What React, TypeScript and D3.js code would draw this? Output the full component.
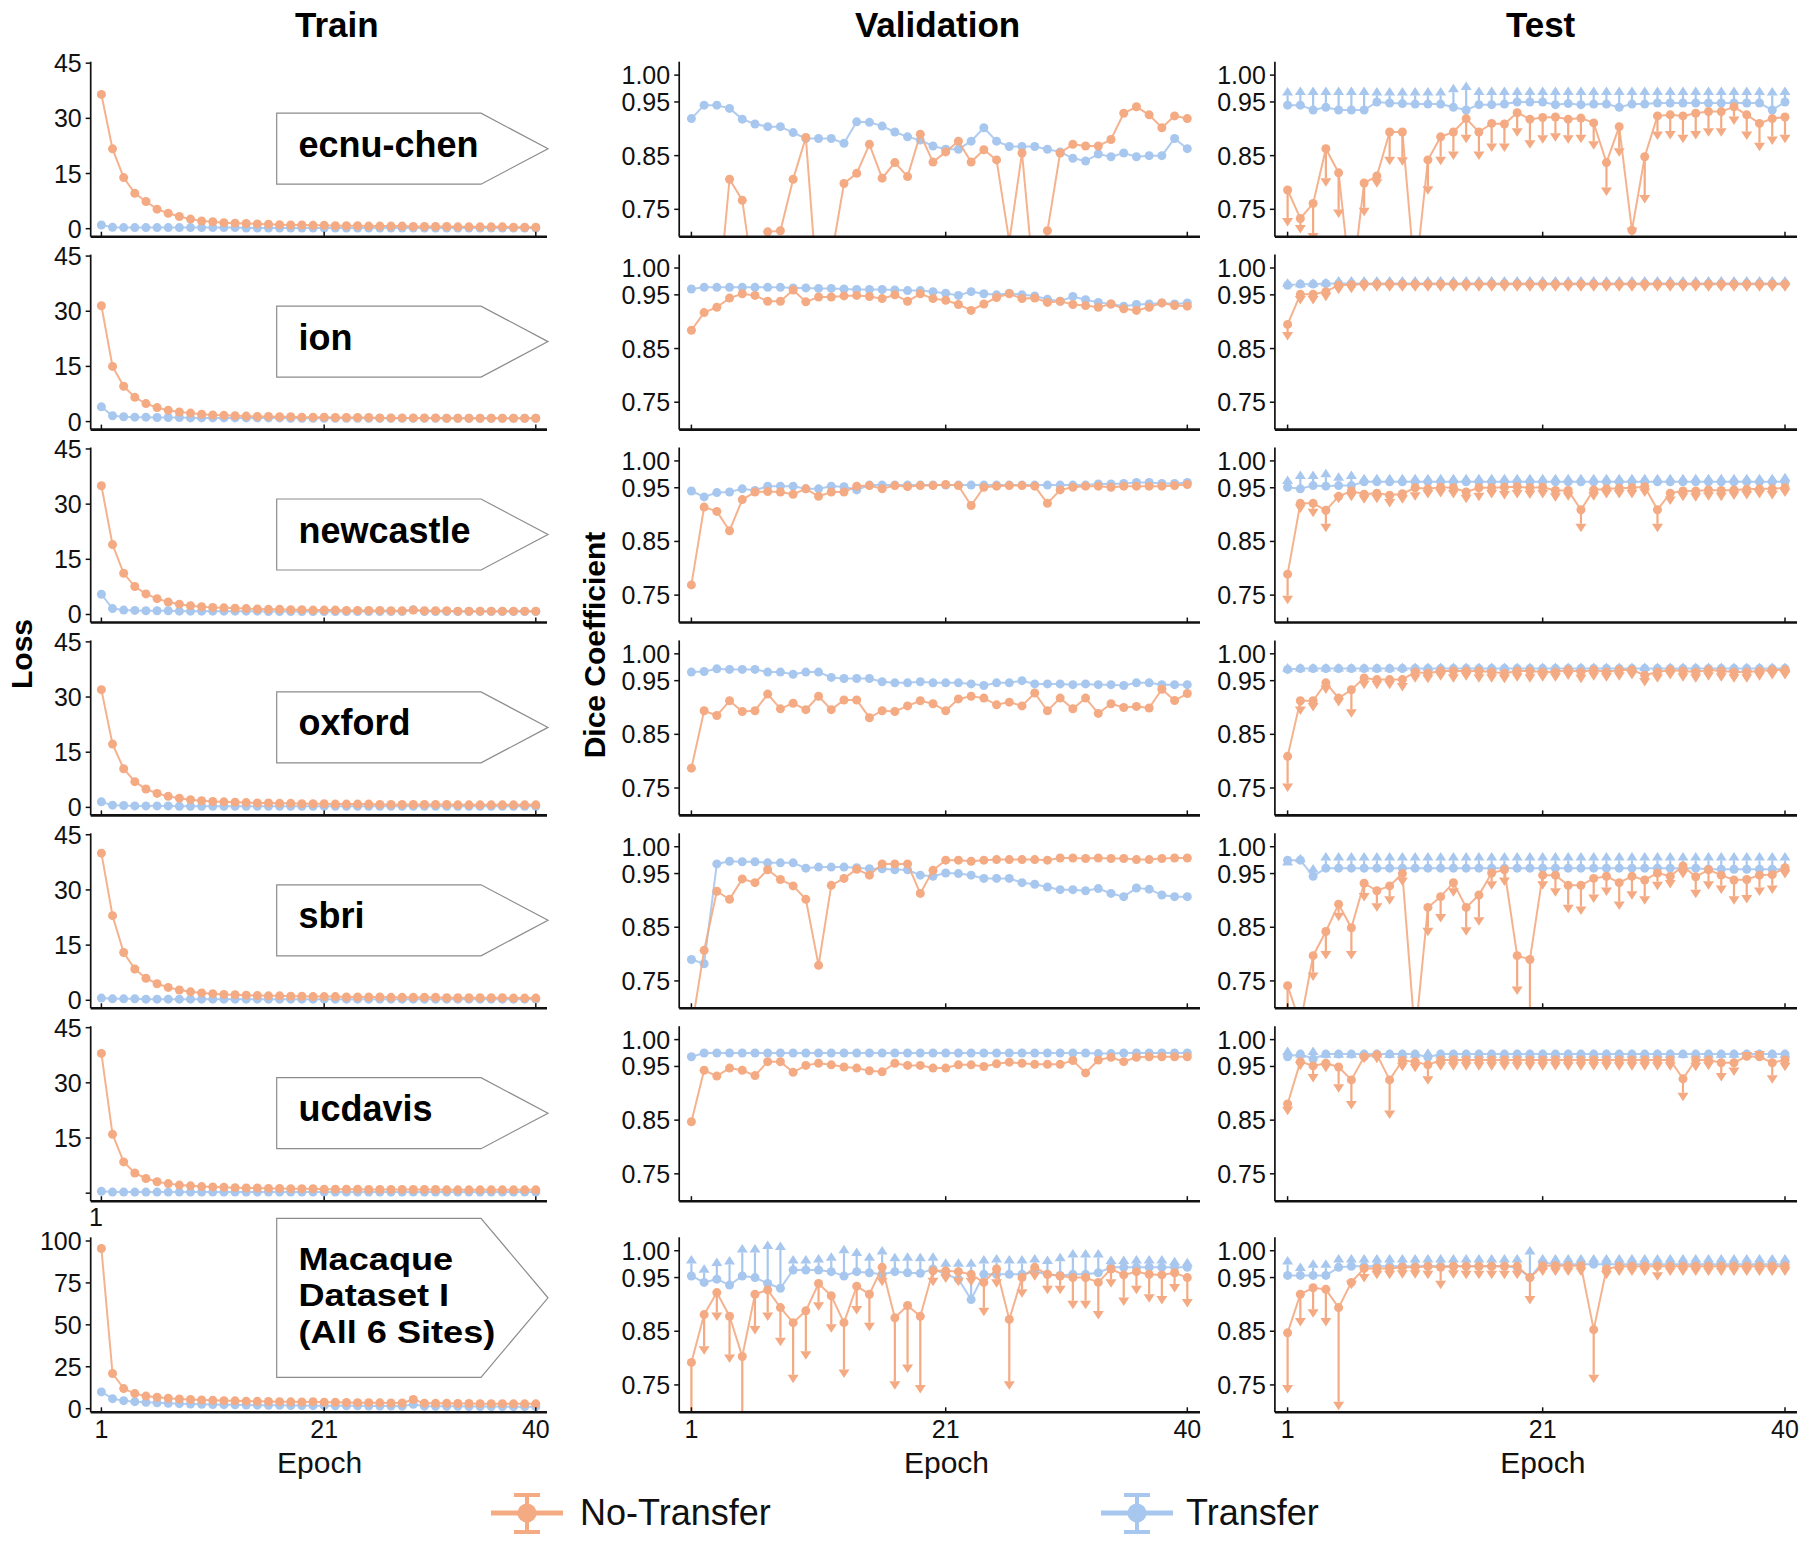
import React from 'react';
import * as d3 from 'd3';

// ---------------- DATA ----------------
const EPOCHS = d3.range(1, 41);
const X_TICKS = [1, 21, 40];
const DICE_TICKS = [0.75, 0.85, 0.95, 1.0];
const LOSS_TICKS = [0, 15, 30, 45];
const LOSS_TICKS_ALL = [0, 25, 50, 75, 100];
const SITE_LABELS = [['ecnu-chen'], ['ion'], ['newcastle'], ['oxford'], ['sbri'], ['ucdavis'], ['Macaque', 'Dataset I', '(All 6 Sites)']];
const COLUMN_TITLES = ['Train', 'Validation', 'Test'];
const LEGEND = ['No-Transfer', 'Transfer'];

// Train loss
const trainNoEcnu = [36.5, 21.7, 13.9, 9.6, 7.4, 5.3, 4.2, 3.3, 2.6, 2.1, 1.9, 1.6, 1.5, 1.4, 1.3, 1.2, 1.1, 1.0, 1.0, 0.9, 0.9, 0.8, 0.8, 0.8, 0.7, 0.7, 0.7, 0.7, 0.6, 0.6, 0.6, 0.6, 0.5, 0.5, 0.5, 0.5, 0.5, 0.4, 0.4, 0.4];
const trainTrEcnu = [1.0, 0.4, 0.3, 0.3, 0.3, 0.3, 0.3, 0.3, 0.3, 0.3, 0.3, 0.3, 0.3, 0.2, 0.2, 0.2, 0.2, 0.2, 0.2, 0.2, 0.2, 0.2, 0.2, 0.2, 0.2, 0.2, 0.2, 0.2, 0.2, 0.2, 0.2, 0.2, 0.2, 0.2, 0.2, 0.2, 0.2, 0.2, 0.2, 0.2];
const trainNoIon = [31.5, 15.0, 9.6, 6.6, 4.9, 3.8, 3.1, 2.6, 2.3, 2.0, 1.8, 1.7, 1.6, 1.5, 1.4, 1.4, 1.3, 1.3, 1.2, 1.2, 1.2, 1.1, 1.1, 1.1, 1.1, 1.0, 1.0, 1.0, 1.0, 1.0, 1.0, 0.9, 0.9, 0.9, 0.9, 0.9, 0.9, 0.9, 0.9, 0.9];
const trainTrIon = [4.0, 1.6, 1.3, 1.2, 1.2, 1.1, 1.1, 1.1, 1.0, 1.0, 1.0, 1.0, 1.0, 1.0, 1.0, 1.0, 1.0, 0.9, 0.9, 0.9, 0.9, 0.9, 0.9, 0.9, 0.9, 0.9, 0.9, 0.9, 0.9, 0.9, 0.9, 0.9, 0.9, 0.9, 0.9, 0.9, 0.9, 0.9, 0.9, 0.9];
const trainNoNewc = [35.0, 19.0, 11.2, 7.6, 5.6, 4.3, 3.4, 2.8, 2.4, 2.1, 1.9, 1.8, 1.7, 1.6, 1.5, 1.4, 1.4, 1.3, 1.3, 1.2, 1.2, 1.2, 1.1, 1.1, 1.1, 1.1, 1.0, 1.0, 1.2, 1.0, 1.0, 1.0, 0.9, 0.9, 0.9, 0.9, 0.9, 0.9, 0.9, 0.9];
const trainTrNewc = [5.5, 1.6, 1.2, 1.1, 1.0, 1.0, 1.0, 0.9, 0.9, 0.9, 0.9, 0.9, 0.9, 0.9, 0.9, 0.8, 0.8, 0.8, 0.8, 0.8, 0.8, 0.8, 0.8, 0.8, 0.8, 0.8, 0.8, 0.8, 1.3, 0.8, 0.8, 0.8, 0.8, 0.8, 0.8, 0.8, 0.8, 0.8, 0.8, 0.8];
const trainNoOxf = [32.0, 17.2, 10.5, 7.0, 5.0, 3.8, 3.0, 2.5, 2.1, 1.8, 1.6, 1.5, 1.4, 1.3, 1.2, 1.2, 1.1, 1.1, 1.0, 1.0, 1.0, 0.9, 0.9, 0.9, 0.9, 0.8, 0.8, 0.8, 0.8, 0.8, 0.8, 0.8, 0.7, 0.7, 0.7, 0.7, 0.7, 0.7, 0.7, 0.7];
const trainTrOxf = [1.5, 0.6, 0.5, 0.4, 0.4, 0.4, 0.4, 0.3, 0.3, 0.3, 0.3, 0.3, 0.3, 0.3, 0.3, 0.3, 0.3, 0.3, 0.3, 0.3, 0.3, 0.3, 0.3, 0.3, 0.3, 0.3, 0.3, 0.3, 0.3, 0.3, 0.3, 0.3, 0.3, 0.3, 0.3, 0.3, 0.3, 0.3, 0.3, 0.3];
const trainNoSbri = [40.0, 23.0, 13.0, 8.5, 6.0, 4.5, 3.5, 2.8, 2.3, 2.0, 1.8, 1.6, 1.5, 1.4, 1.3, 1.2, 1.2, 1.1, 1.1, 1.0, 1.0, 1.0, 0.9, 0.9, 0.9, 0.9, 0.8, 0.8, 0.8, 0.8, 0.8, 0.7, 0.7, 0.7, 0.7, 0.7, 0.7, 0.6, 0.6, 0.6];
const trainTrSbri = [0.6, 0.4, 0.4, 0.4, 0.3, 0.3, 0.3, 0.3, 0.3, 0.3, 0.3, 0.3, 0.3, 0.3, 0.3, 0.3, 0.3, 0.3, 0.3, 0.3, 0.3, 0.3, 0.3, 0.3, 0.3, 0.3, 0.3, 0.3, 0.3, 0.3, 0.3, 0.3, 0.3, 0.3, 0.3, 0.3, 0.3, 0.3, 0.3, 0.3];
const trainNoUcd = [38.0, 16.0, 8.5, 5.5, 4.0, 3.1, 2.6, 2.2, 2.0, 1.8, 1.7, 1.6, 1.5, 1.4, 1.4, 1.3, 1.3, 1.2, 1.2, 1.2, 1.1, 1.1, 1.1, 1.1, 1.0, 1.0, 1.0, 1.0, 1.0, 1.0, 1.0, 0.9, 0.9, 0.9, 0.9, 0.9, 0.9, 0.9, 0.9, 0.9];
const trainTrUcd = [0.5, 0.3, 0.3, 0.3, 0.3, 0.3, 0.3, 0.3, 0.3, 0.3, 0.3, 0.3, 0.3, 0.3, 0.3, 0.3, 0.3, 0.3, 0.3, 0.3, 0.3, 0.3, 0.3, 0.3, 0.3, 0.3, 0.3, 0.3, 0.3, 0.3, 0.3, 0.3, 0.3, 0.3, 0.3, 0.3, 0.3, 0.3, 0.3, 0.3];
const trainNoMac = [95.5, 21.0, 12.0, 9.0, 7.5, 6.8, 6.2, 5.8, 5.5, 5.2, 5.0, 4.8, 4.7, 4.5, 4.4, 4.3, 4.2, 4.1, 4.0, 4.2, 3.9, 3.8, 3.7, 3.6, 3.6, 3.5, 3.4, 3.4, 5.5, 3.3, 3.2, 3.2, 3.1, 3.1, 3.0, 3.0, 3.0, 2.9, 2.9, 2.9];
const trainTrMac = [10.0, 6.0, 4.8, 4.2, 3.8, 3.5, 3.2, 3.0, 2.8, 2.6, 2.5, 2.4, 2.3, 2.2, 2.1, 2.0, 2.0, 1.9, 1.9, 1.8, 1.8, 1.7, 1.7, 1.7, 1.6, 1.6, 1.6, 1.5, 2.6, 1.5, 1.4, 1.4, 1.4, 1.3, 1.3, 1.3, 1.3, 1.2, 1.2, 1.2];

// Validation Dice
const valNoEcnu = [0.50, 0.50, 0.55, 0.806, 0.767, 0.60, 0.708, 0.710, 0.806, 0.884, 0.57, 0.66, 0.798, 0.817, 0.871, 0.808, 0.837, 0.811, 0.890, 0.838, 0.857, 0.877, 0.838, 0.861, 0.842, 0.69, 0.855, 0.60, 0.710, 0.855, 0.871, 0.868, 0.868, 0.880, 0.929, 0.941, 0.926, 0.902, 0.924, 0.919];
const valTrEcnu = [0.919, 0.944, 0.944, 0.938, 0.918, 0.909, 0.904, 0.904, 0.893, 0.882, 0.882, 0.882, 0.873, 0.913, 0.912, 0.905, 0.894, 0.885, 0.879, 0.868, 0.862, 0.862, 0.877, 0.902, 0.877, 0.867, 0.867, 0.867, 0.862, 0.857, 0.845, 0.840, 0.853, 0.848, 0.855, 0.848, 0.850, 0.850, 0.882, 0.863];
const valNoIon = [0.884, 0.917, 0.927, 0.944, 0.952, 0.949, 0.938, 0.938, 0.959, 0.937, 0.946, 0.946, 0.948, 0.949, 0.947, 0.943, 0.950, 0.938, 0.952, 0.943, 0.940, 0.932, 0.921, 0.933, 0.945, 0.952, 0.943, 0.944, 0.936, 0.938, 0.932, 0.930, 0.927, 0.933, 0.924, 0.921, 0.927, 0.935, 0.930, 0.929];
const valTrIon = [0.961, 0.964, 0.964, 0.964, 0.964, 0.964, 0.964, 0.964, 0.963, 0.963, 0.962, 0.962, 0.961, 0.960, 0.960, 0.960, 0.959, 0.958, 0.958, 0.956, 0.953, 0.949, 0.956, 0.952, 0.950, 0.953, 0.950, 0.948, 0.942, 0.938, 0.947, 0.941, 0.936, 0.933, 0.929, 0.932, 0.933, 0.935, 0.933, 0.935];
const valNoNewc = [0.769, 0.914, 0.906, 0.870, 0.928, 0.942, 0.943, 0.942, 0.938, 0.948, 0.934, 0.942, 0.942, 0.953, 0.954, 0.948, 0.954, 0.952, 0.954, 0.954, 0.956, 0.954, 0.917, 0.951, 0.953, 0.954, 0.954, 0.953, 0.921, 0.946, 0.951, 0.953, 0.953, 0.951, 0.953, 0.953, 0.953, 0.953, 0.954, 0.956];
const valTrNewc = [0.944, 0.933, 0.941, 0.942, 0.948, 0.945, 0.953, 0.953, 0.953, 0.948, 0.948, 0.953, 0.952, 0.946, 0.955, 0.955, 0.955, 0.955, 0.955, 0.955, 0.955, 0.955, 0.955, 0.955, 0.955, 0.955, 0.955, 0.955, 0.955, 0.955, 0.955, 0.955, 0.957, 0.957, 0.958, 0.960, 0.960, 0.958, 0.958, 0.960];
const valNoOxf = [0.787, 0.894, 0.885, 0.9125, 0.8925, 0.894, 0.925, 0.8975, 0.908, 0.896, 0.921, 0.896, 0.914, 0.914, 0.881, 0.894, 0.8925, 0.903, 0.9125, 0.907, 0.894, 0.916, 0.921, 0.9175, 0.905, 0.910, 0.903, 0.927, 0.894, 0.9175, 0.8975, 0.9175, 0.889, 0.907, 0.900, 0.902, 0.899, 0.934, 0.913, 0.926];
const valTrOxf = [0.966, 0.967, 0.972, 0.971, 0.971, 0.971, 0.966, 0.966, 0.962, 0.966, 0.966, 0.956, 0.954, 0.954, 0.954, 0.948, 0.946, 0.946, 0.948, 0.946, 0.946, 0.946, 0.944, 0.941, 0.946, 0.946, 0.950, 0.944, 0.944, 0.944, 0.9425, 0.944, 0.9425, 0.9425, 0.941, 0.946, 0.946, 0.9425, 0.9425, 0.9425];
const valNoSbri = [0.66, 0.807, 0.917, 0.902, 0.940, 0.933, 0.957, 0.939, 0.927, 0.902, 0.779, 0.928, 0.941, 0.958, 0.947, 0.968, 0.968, 0.968, 0.913, 0.956, 0.975, 0.975, 0.973, 0.975, 0.976, 0.976, 0.976, 0.976, 0.975, 0.979, 0.979, 0.978, 0.979, 0.978, 0.978, 0.976, 0.976, 0.978, 0.979, 0.979];
const valTrSbri = [0.790, 0.782, 0.968, 0.973, 0.972, 0.972, 0.970, 0.970, 0.970, 0.960, 0.962, 0.962, 0.962, 0.961, 0.959, 0.959, 0.957, 0.957, 0.947, 0.945, 0.951, 0.950, 0.947, 0.941, 0.941, 0.941, 0.933, 0.930, 0.925, 0.920, 0.920, 0.918, 0.922, 0.913, 0.907, 0.923, 0.921, 0.910, 0.907, 0.907];
const valNoUcd = [0.847, 0.943, 0.932, 0.947, 0.943, 0.933, 0.959, 0.959, 0.939, 0.952, 0.956, 0.953, 0.949, 0.947, 0.942, 0.940, 0.956, 0.952, 0.952, 0.947, 0.947, 0.953, 0.953, 0.950, 0.955, 0.958, 0.956, 0.954, 0.954, 0.954, 0.961, 0.938, 0.962, 0.967, 0.959, 0.967, 0.968, 0.968, 0.968, 0.968];
const valTrUcd = [0.968, 0.975, 0.975, 0.975, 0.975, 0.975, 0.975, 0.975, 0.975, 0.975, 0.975, 0.975, 0.975, 0.975, 0.975, 0.975, 0.975, 0.975, 0.975, 0.975, 0.975, 0.975, 0.975, 0.975, 0.975, 0.975, 0.975, 0.975, 0.975, 0.975, 0.975, 0.975, 0.974, 0.974, 0.975, 0.975, 0.975, 0.975, 0.975, 0.975];
const valNoMac = [0.792, 0.881, 0.922, 0.878, 0.803, 0.919, 0.927, 0.894, 0.866, 0.888, 0.939, 0.916, 0.866, 0.934, 0.919, 0.969, 0.875, 0.898, 0.878, 0.9625, 0.9625, 0.961, 0.956, 0.941, 0.966, 0.872, 0.950, 0.969, 0.956, 0.953, 0.950, 0.950, 0.941, 0.966, 0.955, 0.961, 0.956, 0.955, 0.959, 0.950];
const valNoLoMac = [0.60, 0.806, 0.869, 0.791, 0.60, 0.844, 0.869, 0.822, 0.753, 0.797, 0.888, 0.847, 0.763, 0.881, 0.850, 0.934, 0.741, 0.772, 0.734, 0.934, 0.940, 0.934, 0.934, 0.878, 0.931, 0.741, 0.9125, 0.944, 0.919, 0.919, 0.891, 0.891, 0.872, 0.931, 0.897, 0.919, 0.903, 0.900, 0.922, 0.894];
const valTrMac = [0.953, 0.941, 0.947, 0.936, 0.953, 0.950, 0.939, 0.930, 0.964, 0.964, 0.964, 0.961, 0.953, 0.961, 0.959, 0.956, 0.961, 0.959, 0.958, 0.966, 0.956, 0.947, 0.909, 0.956, 0.956, 0.956, 0.956, 0.961, 0.956, 0.954, 0.956, 0.956, 0.959, 0.969, 0.969, 0.969, 0.969, 0.969, 0.969, 0.969];
const valTrHiMac = [0.992, 0.975, 0.9875, 0.990, 1.0125, 1.0125, 1.019, 1.017, 0.992, 0.992, 0.994, 0.997, 1.011, 1.006, 0.997, 1.009, 0.996, 0.997, 0.996, 0.997, 0.986, 0.986, 0.986, 0.992, 0.994, 0.992, 0.992, 0.994, 0.991, 0.996, 1.003, 1.003, 1.003, 0.991, 0.991, 0.992, 0.992, 0.992, 0.989, 0.987];

// Test Dice
const testNoEcnu = [0.786, 0.733, 0.761, 0.863, 0.818, 0.60, 0.799, 0.812, 0.894, 0.894, 0.62, 0.842, 0.885, 0.894, 0.919, 0.894, 0.910, 0.909, 0.930, 0.918, 0.921, 0.922, 0.918, 0.920, 0.911, 0.837, 0.904, 0.711, 0.848, 0.924, 0.926, 0.924, 0.929, 0.932, 0.932, 0.941, 0.926, 0.910, 0.919, 0.922];
const testNoLoEcnu = [0.718, 0.705, 0.69, 0.792, 0.734, 0.55, 0.737, 0.790, 0.832, 0.831, 0.55, 0.777, 0.832, 0.842, 0.873, 0.842, 0.857, 0.857, 0.885, 0.863, 0.872, 0.876, 0.872, 0.873, 0.861, 0.775, 0.848, 0.700, 0.761, 0.879, 0.880, 0.873, 0.880, 0.885, 0.885, 0.907, 0.879, 0.858, 0.870, 0.873];
const testTrEcnu = [0.944, 0.944, 0.935, 0.940, 0.935, 0.935, 0.935, 0.950, 0.948, 0.947, 0.946, 0.946, 0.946, 0.940, 0.935, 0.945, 0.945, 0.946, 0.950, 0.950, 0.950, 0.945, 0.947, 0.945, 0.946, 0.946, 0.940, 0.946, 0.946, 0.948, 0.948, 0.948, 0.948, 0.948, 0.948, 0.948, 0.948, 0.948, 0.935, 0.950];
const testTrHiEcnu = [0.978, 0.979, 0.979, 0.979, 0.979, 0.979, 0.979, 0.978, 0.978, 0.978, 0.978, 0.978, 0.978, 0.984, 0.988, 0.979, 0.979, 0.979, 0.979, 0.979, 0.979, 0.979, 0.979, 0.979, 0.979, 0.979, 0.979, 0.979, 0.979, 0.979, 0.979, 0.979, 0.979, 0.979, 0.979, 0.979, 0.979, 0.979, 0.978, 0.979];
const testNoIon = [0.895, 0.951, 0.951, 0.956, 0.968, 0.969, 0.970, 0.970, 0.970, 0.970, 0.970, 0.970, 0.970, 0.970, 0.970, 0.970, 0.970, 0.970, 0.970, 0.970, 0.970, 0.970, 0.970, 0.970, 0.970, 0.970, 0.970, 0.970, 0.970, 0.970, 0.970, 0.970, 0.970, 0.970, 0.970, 0.970, 0.970, 0.970, 0.970, 0.970];
const testNoLoIon = [0.865, 0.932, 0.932, 0.938, 0.951, 0.953, 0.956, 0.956, 0.956, 0.956, 0.956, 0.956, 0.956, 0.956, 0.956, 0.956, 0.956, 0.956, 0.956, 0.956, 0.956, 0.956, 0.956, 0.956, 0.956, 0.956, 0.956, 0.956, 0.956, 0.956, 0.956, 0.956, 0.956, 0.956, 0.956, 0.956, 0.956, 0.956, 0.956, 0.956];
const testTrIon = [0.968, 0.970, 0.970, 0.971, 0.971, 0.971, 0.971, 0.971, 0.971, 0.971, 0.971, 0.971, 0.971, 0.971, 0.971, 0.971, 0.971, 0.971, 0.971, 0.971, 0.971, 0.971, 0.971, 0.971, 0.971, 0.971, 0.971, 0.971, 0.971, 0.971, 0.971, 0.971, 0.971, 0.971, 0.971, 0.971, 0.971, 0.971, 0.971, 0.971];
const testTrHiIon = [0.981, 0.980, 0.981, 0.982, 0.985, 0.985, 0.985, 0.985, 0.985, 0.985, 0.985, 0.985, 0.985, 0.985, 0.985, 0.985, 0.985, 0.985, 0.985, 0.985, 0.985, 0.985, 0.985, 0.985, 0.985, 0.985, 0.985, 0.985, 0.985, 0.985, 0.985, 0.985, 0.985, 0.985, 0.985, 0.985, 0.985, 0.985, 0.985, 0.985];
const testNoNewc = [0.789, 0.921, 0.921, 0.908, 0.934, 0.944, 0.938, 0.940, 0.936, 0.939, 0.950, 0.948, 0.951, 0.950, 0.942, 0.950, 0.950, 0.951, 0.952, 0.950, 0.951, 0.945, 0.945, 0.909, 0.946, 0.948, 0.949, 0.950, 0.952, 0.909, 0.940, 0.944, 0.944, 0.946, 0.945, 0.946, 0.947, 0.948, 0.948, 0.950];
const testNoLoNewc = [0.733, 0.903, 0.895, 0.867, 0.921, 0.925, 0.920, 0.921, 0.913, 0.920, 0.926, 0.930, 0.932, 0.930, 0.921, 0.925, 0.930, 0.928, 0.930, 0.929, 0.930, 0.924, 0.926, 0.867, 0.926, 0.930, 0.930, 0.930, 0.933, 0.867, 0.918, 0.925, 0.924, 0.926, 0.925, 0.927, 0.928, 0.930, 0.928, 0.933];
const testTrNewc = [0.951, 0.948, 0.954, 0.953, 0.954, 0.954, 0.961, 0.961, 0.961, 0.961, 0.961, 0.961, 0.961, 0.961, 0.961, 0.961, 0.961, 0.961, 0.961, 0.961, 0.961, 0.961, 0.961, 0.961, 0.961, 0.961, 0.961, 0.961, 0.961, 0.961, 0.961, 0.961, 0.961, 0.961, 0.961, 0.961, 0.961, 0.961, 0.961, 0.961];
const testTrHiNewc = [0.973, 0.982, 0.982, 0.9855, 0.979, 0.982, 0.976, 0.976, 0.976, 0.976, 0.976, 0.976, 0.976, 0.976, 0.976, 0.976, 0.976, 0.976, 0.976, 0.976, 0.976, 0.976, 0.976, 0.976, 0.976, 0.976, 0.976, 0.976, 0.976, 0.976, 0.976, 0.976, 0.976, 0.976, 0.976, 0.976, 0.976, 0.976, 0.976, 0.978];
const testNoOxf = [0.809, 0.9125, 0.9125, 0.946, 0.9175, 0.933, 0.955, 0.952, 0.952, 0.952, 0.966, 0.964, 0.968, 0.968, 0.968, 0.968, 0.966, 0.964, 0.968, 0.968, 0.966, 0.966, 0.970, 0.966, 0.970, 0.966, 0.970, 0.970, 0.960, 0.966, 0.970, 0.968, 0.966, 0.970, 0.968, 0.966, 0.966, 0.968, 0.970, 0.970];
const testNoLoOxf = [0.7425, 0.886, 0.8925, 0.925, 0.902, 0.881, 0.934, 0.934, 0.934, 0.930, 0.946, 0.945, 0.950, 0.946, 0.950, 0.946, 0.946, 0.945, 0.948, 0.946, 0.948, 0.948, 0.951, 0.945, 0.950, 0.948, 0.950, 0.952, 0.939, 0.946, 0.952, 0.948, 0.946, 0.950, 0.948, 0.946, 0.946, 0.950, 0.952, 0.952];
const testTrOxf = [0.971, 0.9725, 0.9725, 0.9725, 0.9725, 0.9725, 0.9725, 0.9725, 0.9725, 0.9725, 0.9725, 0.9725, 0.9725, 0.9725, 0.9725, 0.9725, 0.9725, 0.9725, 0.9725, 0.9725, 0.9725, 0.9725, 0.9725, 0.9725, 0.9725, 0.9725, 0.9725, 0.9725, 0.9725, 0.9725, 0.9725, 0.9725, 0.9725, 0.9725, 0.9725, 0.9725, 0.9725, 0.9725, 0.9725, 0.9725];
const testTrHiOxf = [0.983, 0.983, 0.983, 0.983, 0.983, 0.983, 0.983, 0.983, 0.983, 0.984, 0.984, 0.984, 0.984, 0.984, 0.984, 0.984, 0.984, 0.984, 0.984, 0.984, 0.984, 0.984, 0.984, 0.984, 0.984, 0.984, 0.984, 0.984, 0.984, 0.984, 0.984, 0.984, 0.984, 0.984, 0.984, 0.984, 0.984, 0.984, 0.984, 0.984];
const testNoSbri = [0.741, 0.67, 0.797, 0.842, 0.893, 0.849, 0.932, 0.918, 0.927, 0.950, 0.645, 0.887, 0.907, 0.933, 0.887, 0.910, 0.951, 0.957, 0.797, 0.790, 0.947, 0.947, 0.928, 0.928, 0.941, 0.945, 0.933, 0.945, 0.938, 0.951, 0.945, 0.964, 0.944, 0.957, 0.947, 0.938, 0.939, 0.947, 0.948, 0.961];
const testNoLoSbri = [0.60, 0.55, 0.750, 0.790, 0.861, 0.790, 0.898, 0.879, 0.892, 0.927, 0.55, 0.833, 0.859, 0.907, 0.834, 0.853, 0.920, 0.927, 0.724, 0.60, 0.920, 0.907, 0.876, 0.873, 0.895, 0.908, 0.882, 0.901, 0.892, 0.919, 0.922, 0.941, 0.904, 0.920, 0.912, 0.892, 0.894, 0.908, 0.912, 0.941];
const testTrSbri = [0.975, 0.975, 0.945, 0.960, 0.960, 0.960, 0.960, 0.960, 0.960, 0.960, 0.960, 0.960, 0.960, 0.960, 0.960, 0.960, 0.960, 0.960, 0.960, 0.960, 0.960, 0.960, 0.960, 0.960, 0.960, 0.960, 0.960, 0.960, 0.960, 0.960, 0.960, 0.960, 0.960, 0.958, 0.958, 0.958, 0.958, 0.958, 0.958, 0.958];
const testTrHiSbri = [0.981, 0.987, 0.968, 0.990, 0.990, 0.990, 0.990, 0.990, 0.990, 0.990, 0.990, 0.990, 0.990, 0.990, 0.990, 0.990, 0.990, 0.990, 0.990, 0.990, 0.990, 0.990, 0.990, 0.990, 0.990, 0.990, 0.990, 0.990, 0.990, 0.990, 0.990, 0.990, 0.990, 0.990, 0.990, 0.990, 0.990, 0.990, 0.990, 0.990];
const testNoUcd = [0.880, 0.959, 0.951, 0.956, 0.949, 0.925, 0.968, 0.972, 0.925, 0.961, 0.959, 0.953, 0.962, 0.962, 0.962, 0.962, 0.962, 0.962, 0.962, 0.962, 0.962, 0.962, 0.962, 0.962, 0.962, 0.962, 0.962, 0.962, 0.962, 0.962, 0.962, 0.927, 0.962, 0.962, 0.957, 0.957, 0.969, 0.968, 0.957, 0.962];
const testNoLoUcd = [0.859, 0.943, 0.920, 0.939, 0.901, 0.870, 0.956, 0.956, 0.852, 0.941, 0.939, 0.916, 0.942, 0.942, 0.942, 0.942, 0.942, 0.942, 0.942, 0.942, 0.942, 0.942, 0.942, 0.942, 0.942, 0.942, 0.942, 0.942, 0.942, 0.942, 0.942, 0.885, 0.941, 0.943, 0.922, 0.932, 0.961, 0.963, 0.918, 0.941];
const testTrUcd = [0.968, 0.973, 0.964, 0.973, 0.973, 0.973, 0.973, 0.973, 0.973, 0.973, 0.973, 0.967, 0.973, 0.973, 0.973, 0.973, 0.973, 0.973, 0.973, 0.973, 0.973, 0.973, 0.973, 0.973, 0.973, 0.973, 0.973, 0.973, 0.973, 0.973, 0.973, 0.973, 0.973, 0.973, 0.973, 0.973, 0.973, 0.973, 0.973, 0.973];
const testTrHiUcd = [0.987, 0.982, 0.987, 0.982, 0.982, 0.982, 0.982, 0.982, 0.982, 0.982, 0.982, 0.984, 0.982, 0.982, 0.982, 0.982, 0.982, 0.982, 0.982, 0.982, 0.982, 0.982, 0.982, 0.982, 0.982, 0.982, 0.982, 0.982, 0.982, 0.982, 0.982, 0.982, 0.982, 0.982, 0.982, 0.982, 0.982, 0.982, 0.982, 0.982];
const testNoMac = [0.847, 0.919, 0.931, 0.928, 0.894, 0.941, 0.967, 0.967, 0.967, 0.969, 0.969, 0.971, 0.969, 0.971, 0.971, 0.971, 0.971, 0.971, 0.971, 0.950, 0.972, 0.972, 0.972, 0.972, 0.853, 0.966, 0.971, 0.971, 0.971, 0.971, 0.971, 0.971, 0.971, 0.971, 0.971, 0.971, 0.971, 0.971, 0.971, 0.971];
const testNoLoMac = [0.734, 0.859, 0.875, 0.859, 0.703, 0.928, 0.941, 0.947, 0.947, 0.948, 0.948, 0.947, 0.928, 0.948, 0.947, 0.947, 0.947, 0.947, 0.947, 0.900, 0.953, 0.953, 0.953, 0.953, 0.753, 0.947, 0.953, 0.953, 0.953, 0.944, 0.953, 0.953, 0.953, 0.953, 0.953, 0.953, 0.953, 0.953, 0.953, 0.953];
const testTrMac = [0.954, 0.954, 0.954, 0.954, 0.969, 0.971, 0.971, 0.971, 0.971, 0.971, 0.971, 0.971, 0.971, 0.971, 0.971, 0.971, 0.971, 0.971, 0.969, 0.950, 0.978, 0.975, 0.975, 0.975, 0.975, 0.975, 0.975, 0.975, 0.975, 0.975, 0.975, 0.975, 0.975, 0.975, 0.975, 0.975, 0.975, 0.975, 0.975, 0.975];
const testTrHiMac = [0.990, 0.978, 0.984, 0.984, 0.994, 0.994, 0.994, 0.994, 0.994, 0.994, 0.994, 0.994, 0.994, 0.994, 0.994, 0.994, 0.994, 0.994, 0.994, 1.009, 0.994, 0.994, 0.994, 0.994, 0.994, 0.994, 0.994, 0.994, 0.994, 0.994, 0.994, 0.994, 0.994, 0.994, 0.994, 0.994, 0.994, 0.994, 0.994, 0.994];

// ---------------- LAYOUT / STYLE ----------------
const ORANGE = '#F4AA82';
const BLUE = '#A7C7EE';
const FONT = "'Liberation Sans', Arial, Helvetica, sans-serif";
const ROW_BOTTOM = [236.7, 429.6, 622.5, 815.4, 1008.3, 1201.2, 1412.3];
const PANEL_H = 175;
const COLS = [
  { axisX: 90.7, right: 547, x1: 101.4, x40: 535.8, title: 336.8, epoch: 319.6 },
  { axisX: 679.2, right: 1200, x1: 691.4, x40: 1187.3, title: 937.6, epoch: 946.5 },
  { axisX: 1274.9, right: 1797, x1: 1287.6, x40: 1785, title: 1540.6, epoch: 1542.8 },
];

const ROWS = [
  { train: [trainNoEcnu, trainTrEcnu], val: { no: valNoEcnu, tr: valTrEcnu }, test: { no: testNoEcnu, tr: testTrEcnu, noLo: testNoLoEcnu, trHi: testTrHiEcnu } },
  { train: [trainNoIon, trainTrIon], val: { no: valNoIon, tr: valTrIon }, test: { no: testNoIon, tr: testTrIon, noLo: testNoLoIon, trHi: testTrHiIon } },
  { train: [trainNoNewc, trainTrNewc], val: { no: valNoNewc, tr: valTrNewc }, test: { no: testNoNewc, tr: testTrNewc, noLo: testNoLoNewc, trHi: testTrHiNewc } },
  { train: [trainNoOxf, trainTrOxf], val: { no: valNoOxf, tr: valTrOxf }, test: { no: testNoOxf, tr: testTrOxf, noLo: testNoLoOxf, trHi: testTrHiOxf } },
  { train: [trainNoSbri, trainTrSbri], val: { no: valNoSbri, tr: valTrSbri }, test: { no: testNoSbri, tr: testTrSbri, noLo: testNoLoSbri, trHi: testTrHiSbri } },
  { train: [trainNoUcd, trainTrUcd], val: { no: valNoUcd, tr: valTrUcd }, test: { no: testNoUcd, tr: testTrUcd, noLo: testNoLoUcd, trHi: testTrHiUcd } },
  { train: [trainNoMac, trainTrMac], val: { no: valNoMac, tr: valTrMac, noLo: valNoLoMac, trHi: valTrHiMac }, test: { no: testNoMac, tr: testTrMac, noLo: testNoLoMac, trHi: testTrHiMac } },
];

type Series = { values: number[]; ends?: number[]; color: string };

function Arrow({ x, y0, y1, color }: { x: number; y0: number; y1: number; color: string }) {
  const dir = y1 > y0 ? 1 : -1;
  const ah = 8.5;
  const aw = 5.5;
  const base = y1 - dir * ah;
  return (
    <g>
      {Math.abs(y1 - y0) > ah && <line x1={x} x2={x} y1={y0} y2={base} stroke={color} strokeWidth={2.2} />}
      <path d={`M${x - aw},${base}L${x + aw},${base}L${x},${y1}Z`} fill={color} />
    </g>
  );
}

function Panel({ id, col, row, yDomain, yTicks, tickFmt, series, showXLabels, hideTickLabel }: any) {
  const c = COLS[col];
  const B = ROW_BOTTOM[row];
  const top = B - PANEL_H;
  const x = d3.scaleLinear().domain([1, 40]).range([c.x1, c.x40]);
  const y = d3.scaleLinear().domain(yDomain).range([B, top]);
  const line = d3.line<number>().x((_, i) => x(EPOCHS[i])).y((d) => y(d));
  const clipId = `clip-${id}`;
  return (
    <g>
      <defs>
        <clipPath id={clipId}>
          <rect x={c.axisX} y={top - 25} width={c.right - c.axisX + 10} height={B - top + 25} />
        </clipPath>
      </defs>
      <g clipPath={`url(#${clipId})`}>
        {series.map((s: Series, si: number) => (
          <g key={si}>
            <path d={line(s.values) || ''} fill="none" stroke={s.color} strokeWidth={2} strokeOpacity={0.9} />
            {s.ends && s.ends.map((e, i) => (
              <Arrow key={i} x={x(EPOCHS[i])} y0={y(s.values[i])} y1={y(e)} color={s.color} />
            ))}
            {s.values.map((v, i) => (
              <circle key={i} cx={x(EPOCHS[i])} cy={y(v)} r={4.5} fill={s.color} />
            ))}
          </g>
        ))}
      </g>
      <line x1={c.axisX} x2={c.axisX} y1={top} y2={B} stroke="#111" strokeWidth={1.7} />
      {yTicks.map((t: number) => (
        <g key={t}>
          <line x1={c.axisX - 5} x2={c.axisX} y1={y(t)} y2={y(t)} stroke="#111" strokeWidth={1.5} />
          {hideTickLabel !== t && (
            <text x={c.axisX - 9} y={y(t)} dy="0.36em" textAnchor="end" fontSize={25} fontFamily={FONT} fill="#111">
              {tickFmt(t)}
            </text>
          )}
        </g>
      ))}
      <line x1={c.axisX} x2={c.right} y1={B} y2={B} stroke="#111" strokeWidth={2.6} />
      {X_TICKS.map((t) => (
        <g key={t}>
          <line x1={x(t)} x2={x(t)} y1={B} y2={B - 5} stroke="#111" strokeWidth={1.5} />
          {showXLabels && (
            <text x={x(t)} y={B + 26} textAnchor="middle" fontSize={25} fontFamily={FONT} fill="#111">
              {t}
            </text>
          )}
        </g>
      ))}
    </g>
  );
}

function SiteLabel({ row, lines }: { row: number; lines: string[] }) {
  const B = ROW_BOTTOM[row];
  const multi = lines.length > 1;
  const cy = multi ? B - 114.5 : B - 88;
  const h = multi ? 159 : 71;
  const left = 276.7, shoulder = 481, tip = 548;
  const t = cy - h / 2, b = cy + h / 2;
  const offsets = multi ? [-28, 8.5, 45] : [8];
  const fs = multi ? 32 : 36;
  const sx = multi ? 1.13 : 1;
  return (
    <g>
      <path d={`M${left},${t}L${shoulder},${t}L${tip},${cy}L${shoulder},${b}L${left},${b}Z`} fill="#fff" stroke="#8c8c8c" strokeWidth={1.2} />
      {lines.map((l, i) => (
        <text key={i} transform={`translate(298.5,${cy + offsets[i]}) scale(${sx},1)`} fontSize={fs} fontWeight="bold" fontFamily={FONT} fill="#000">
          {l}
        </text>
      ))}
    </g>
  );
}

function LegendKey({ cx, color }: { cx: number; color: string }) {
  const cy = 1513;
  return (
    <g>
      <line x1={cx - 36} x2={cx + 36} y1={cy} y2={cy} stroke={color} strokeWidth={5} />
      <line x1={cx} x2={cx} y1={cy - 18} y2={cy + 19} stroke={color} strokeWidth={4} />
      <line x1={cx - 13} x2={cx + 13} y1={cy - 18} y2={cy - 18} stroke={color} strokeWidth={4} />
      <line x1={cx - 13} x2={cx + 13} y1={cy + 19} y2={cy + 19} stroke={color} strokeWidth={4} />
      <circle cx={cx} cy={cy} r={9.5} fill={color} />
    </g>
  );
}

export default function App() {
  const diceFmt = d3.format('.2f');
  const lossFmt = d3.format('d');
  const last = ROWS.length - 1;
  return (
    <svg width={1800} height={1541} style={{ position: 'absolute', left: 0, top: 0, background: '#fff' }}>
      <rect width={1800} height={1541} fill="#fff" />
      {COLUMN_TITLES.map((t, i) => (
        <text key={t} x={COLS[i].title} y={37} textAnchor="middle" fontSize={35} fontWeight="bold" fontFamily={FONT} fill="#000">
          {t}
        </text>
      ))}
      {ROWS.map((r, ri) => (
        <g key={ri}>
          <Panel
            id={`tr${ri}`}
            col={0}
            row={ri}
            yDomain={ri === last ? [-2.15, 102.2] : [-2.18, 45.4]}
            yTicks={ri === last ? LOSS_TICKS_ALL : LOSS_TICKS}
            tickFmt={lossFmt}
            hideTickLabel={ri === 5 ? 0 : undefined}
            showXLabels={ri === last}
            series={[
              { values: r.train[1], color: BLUE },
              { values: r.train[0], color: ORANGE },
            ]}
          />
          <Panel
            id={`va${ri}`}
            col={1}
            row={ri}
            yDomain={[0.699, 1.025]}
            yTicks={DICE_TICKS}
            tickFmt={diceFmt}
            showXLabels={ri === last}
            series={[
              { values: r.val.tr, ends: (r.val as any).trHi, color: BLUE },
              { values: r.val.no, ends: (r.val as any).noLo, color: ORANGE },
            ]}
          />
          <Panel
            id={`te${ri}`}
            col={2}
            row={ri}
            yDomain={[0.699, 1.025]}
            yTicks={DICE_TICKS}
            tickFmt={diceFmt}
            showXLabels={ri === last}
            series={[
              { values: r.test.tr, ends: r.test.trHi, color: BLUE },
              { values: r.test.no, ends: r.test.noLo, color: ORANGE },
            ]}
          />
          <SiteLabel row={ri} lines={SITE_LABELS[ri]} />
        </g>
      ))}
      <text x={96} y={1226} textAnchor="middle" fontSize={25} fontFamily={FONT} fill="#111">1</text>
      <text transform="translate(21,654) rotate(-90)" textAnchor="middle" dy="0.36em" fontSize={30} fontWeight="bold" fontFamily={FONT} fill="#000">Loss</text>
      <text transform="translate(594,645) rotate(-90)" textAnchor="middle" dy="0.36em" fontSize={30} fontWeight="bold" fontFamily={FONT} fill="#000">Dice Coefficient</text>
      {COLS.map((c, i) => (
        <text key={i} x={c.epoch} y={1473} textAnchor="middle" fontSize={30} fontFamily={FONT} fill="#111">Epoch</text>
      ))}
      <LegendKey cx={527} color={ORANGE} />
      <text x={580} y={1525} fontSize={36} fontFamily={FONT} fill="#111">{LEGEND[0]}</text>
      <LegendKey cx={1137} color={BLUE} />
      <text x={1186} y={1525} fontSize={36} fontFamily={FONT} fill="#111">{LEGEND[1]}</text>
    </svg>
  );
}
